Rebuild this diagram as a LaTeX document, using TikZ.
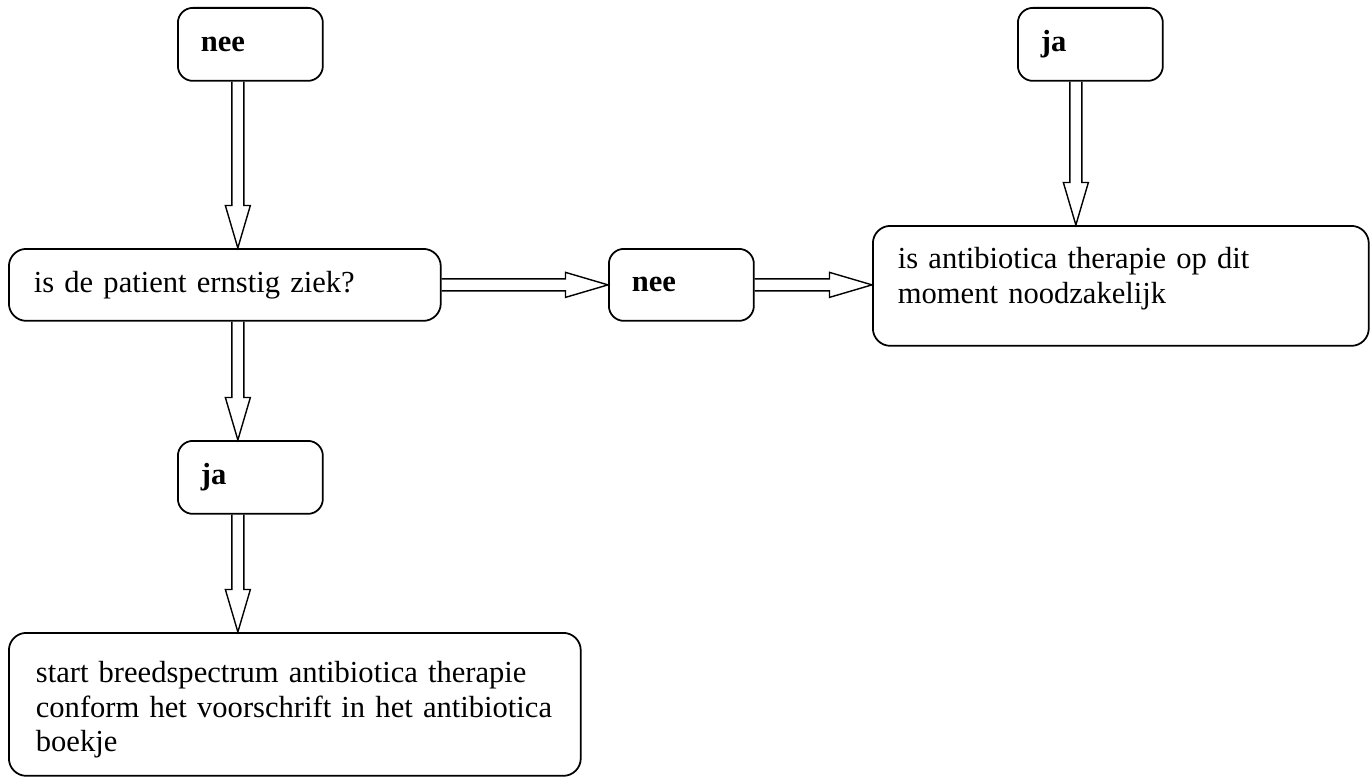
\documentclass[tikz,border=0pt]{standalone}
\usepackage{fontspec}
\setmainfont{Liberation Serif}
\usetikzlibrary{calc}

\begin{document}
\begin{tikzpicture}[x=0.02cm, y=-0.02cm]

\tikzstyle{antwoord} = [rectangle, rounded corners=0.3cm, draw=black, line width=1pt, minimum width=2.9cm, minimum height=1.46cm, inner xsep=0.46cm, text width=1.98cm, align=left, font=\fontsize{17.4}{19.6}\selectfont\bfseries]
\tikzstyle{vraag} = [rectangle, rounded corners=0.35cm, draw=black, line width=1pt, inner xsep=0.5cm, align=left, font=\fontsize{17.4}{19.6}\selectfont]
\tikzstyle{pijl} = [line width=0.8pt, line join=miter, to path={
  ($(\tikztostart)!0.12cm!90:(\tikztotarget)$)
  -- ($(\tikztotarget)!0.85cm!(\tikztostart)!0.12cm!90:(\tikztotarget)$)
  -- ($(\tikztotarget)!0.85cm!(\tikztostart)!0.25cm!90:(\tikztotarget)$)
  -- (\tikztotarget)
  -- ($(\tikztotarget)!0.85cm!(\tikztostart)!0.25cm!-90:(\tikztotarget)$)
  -- ($(\tikztotarget)!0.85cm!(\tikztostart)!0.12cm!-90:(\tikztotarget)$)
  -- ($(\tikztostart)!0.12cm!-90:(\tikztotarget)$) \tikztonodes}]

\useasboundingbox (0,0) rectangle (1370,777);

% Define nodes
\node (nee1) [antwoord, anchor=north west] at (177,7) {nee};
\node (ja1) [antwoord, anchor=north west] at (1017,7) {ja};
\node (patient) [vraag, anchor=north west, minimum width=8.64cm, minimum height=1.44cm, text width=7.64cm] at (8,248) {is de patient ernstig ziek?};
\node (nee2) [antwoord, anchor=north west, minimum height=1.44cm] at (608,248) {nee};
\node (therapie) [vraag, anchor=north west, minimum width=9.92cm, minimum height=2.4cm, text width=8.92cm, text depth=1.1cm] at (872,225) {is antibiotica therapie op dit\\ moment noodzakelijk};
\node (ja2) [antwoord, anchor=north west] at (177,440) {ja};
\node (start) [vraag, anchor=north west, minimum width=11.44cm, minimum height=2.86cm, text width=10.36cm, inner xsep=0.54cm, text depth=1.28cm] at (8,632) {start breedspectrum antibiotica therapie\\ conform het voorschrift in het antibiotica\\ boekje};

% Draw arrows
\draw [pijl] ([xshift=-0.25cm]nee1.south) to ([xshift=0.26cm]patient.north);
\draw [pijl] ([xshift=-0.29cm]ja1.south) to ([xshift=-0.29cm]ja1.south |- therapie.north);
\draw [pijl] (patient.east) to (nee2.west);
\draw [pijl] (nee2.east) to (nee2.east -| therapie.west);
\draw [pijl] ([xshift=0.26cm]patient.south) to ([xshift=-0.25cm]ja2.north);
\draw [pijl] ([xshift=-0.25cm]ja2.south) to ([xshift=-0.25cm]ja2.south |- start.north);

\end{tikzpicture}
\end{document}
